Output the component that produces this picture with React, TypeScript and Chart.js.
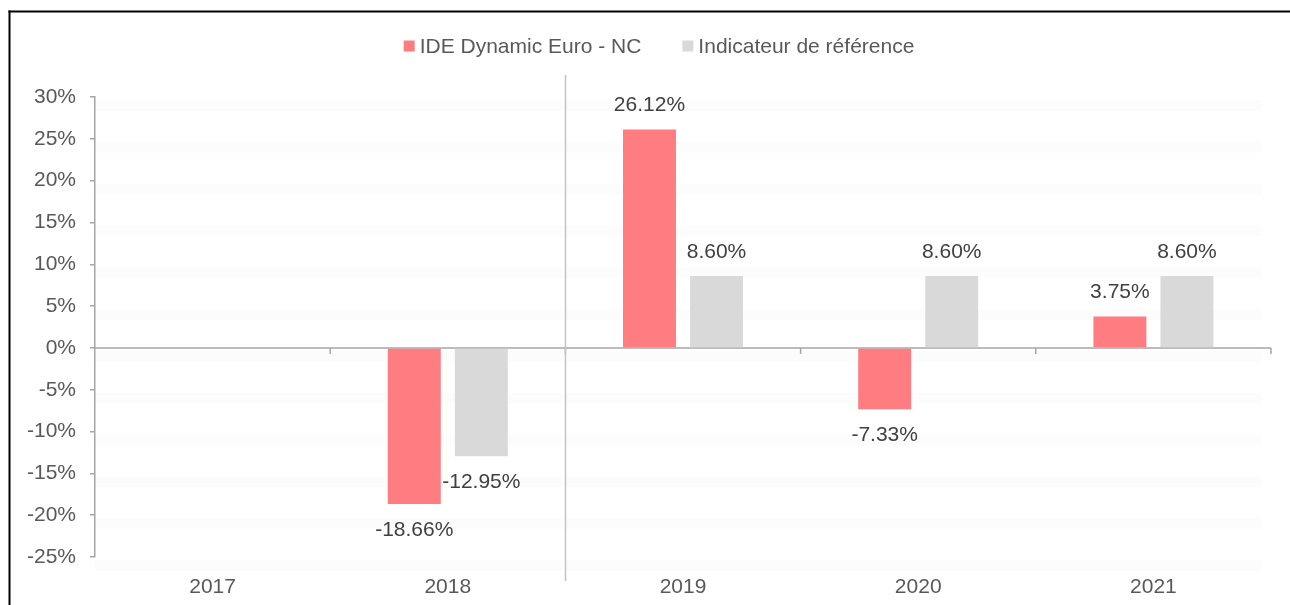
import React, { useEffect, useRef } from "react";
import { Chart, registerables } from "chart.js";

Chart.register(...registerables);

const categories = ["2017", "2018", "2019", "2020", "2021"];
const fundLabel = "IDE Dynamic Euro - NC";
const benchLabel = "Indicateur de référence";
const fundValues: (number | null)[] = [null, -18.66, 26.12, -7.33, 3.75];
const benchValues: (number | null)[] = [null, -12.95, 8.6, 8.6, 8.6];
const yMin = -25;
const yMax = 30;
const yStep = 5;

const FONT = "'Liberation Sans', Arial, sans-serif";
const FONT_SIZE = 21;

const decorPlugin = {
  id: "decor",
  beforeDraw(chart: any) {
    const { ctx, width, height } = chart;
    ctx.save();
    ctx.fillStyle = "#ffffff";
    ctx.fillRect(0, 0, width, height);
    ctx.fillStyle = "#000000";
    ctx.fillRect(8.5, 10.5, width, 2);
    ctx.fillRect(8.5, 10.5, 2, height);
    ctx.restore();
  },
  beforeDatasetsDraw(chart: any) {
    const { ctx, chartArea, scales } = chart;
    const y = scales.y;
    const x = scales.x;
    ctx.save();
    // faint bands
    ctx.fillStyle = "rgba(0,0,0,0.01)";
    for (let v = yMin; v <= yMax; v += yStep) {
      const py = y.getPixelForValue(v);
      ctx.fillRect(chartArea.left, py + 3, chartArea.right - chartArea.left - 9, 11);
    }
    // zero line
    const y0 = y.getPixelForValue(0);
    ctx.strokeStyle = "#a6a6a6";
    ctx.lineWidth = 1.5;
    ctx.beginPath();
    ctx.moveTo(chartArea.left, y0);
    ctx.lineTo(chartArea.right, y0);
    ctx.stroke();
    // category boundary ticks
    const n = categories.length;
    const cw = (chartArea.right - chartArea.left) / n;
    ctx.lineWidth = 1.5;
    for (let i = 0; i < n; i++) {
      const bx = x.getPixelForValue(i) + cw / 2;
      ctx.beginPath();
      ctx.moveTo(bx, y0);
      ctx.lineTo(bx, y0 + 6);
      ctx.stroke();
    }
    // separator between 2018 and 2019
    const sx = Math.round(x.getPixelForValue(1) + cw / 2) + 0.5;
    ctx.strokeStyle = "#c4c4c4";
    ctx.lineWidth = 1.5;
    ctx.beginPath();
    ctx.moveTo(sx, 75);
    ctx.lineTo(sx, 581);
    ctx.stroke();
    ctx.restore();
  },
  afterDatasetsDraw(chart: any) {
    const { ctx } = chart;
    ctx.save();
    ctx.font = `${FONT_SIZE}px ${FONT}`;
    ctx.fillStyle = "#404040";
    ctx.textAlign = "center";
    ctx.textBaseline = "middle";
    chart.data.datasets.forEach((ds: any, di: number) => {
      const meta = chart.getDatasetMeta(di);
      meta.data.forEach((bar: any, i: number) => {
        const v = ds.data[i];
        if (v === null || v === undefined) return;
        const ty = v >= 0 ? bar.y - 24 : bar.y + 26;
        ctx.fillText(v.toFixed(2) + "%", bar.x, ty);
      });
    });
    // legend
    const cy = 46;
    const box = 11;
    const gapText = 5;
    const gapItem = 41;
    const widths = chart.data.datasets.map((ds: any) => ctx.measureText(ds.label).width);
    let total = 0;
    widths.forEach((w: number, i: number) => {
      total += box + gapText + w + (i < widths.length - 1 ? gapItem : 0);
    });
    let cx = 659 - total / 2;
    ctx.textAlign = "left";
    chart.data.datasets.forEach((ds: any, i: number) => {
      ctx.fillStyle = ds.backgroundColor;
      ctx.fillRect(cx, cy - box / 2, box, box);
      cx += box + gapText;
      ctx.fillStyle = "#595959";
      ctx.fillText(ds.label, cx, cy + 1);
      cx += widths[i] + gapItem;
    });
    ctx.restore();
  },
};

export default function App() {
  const ref = useRef<HTMLCanvasElement | null>(null);
  useEffect(() => {
    if (!ref.current) return;
    const chart = new Chart(ref.current, {
      type: "bar",
      data: {
        labels: categories,
        datasets: [
          {
            label: fundLabel,
            data: fundValues,
            backgroundColor: "#FF7C80",
            categoryPercentage: 0.57,
            barPercentage: 0.79,
          },
          {
            label: benchLabel,
            data: benchValues,
            backgroundColor: "#D9D9D9",
            categoryPercentage: 0.57,
            barPercentage: 0.79,
          },
        ],
      },
      options: {
        animation: false,
        responsive: false,
        maintainAspectRatio: false,
        layout: { padding: { left: 0, top: 97, right: 19, bottom: 0 } },
        plugins: {
          legend: { display: false },
          tooltip: { enabled: false },
          title: { display: false },
        },
        scales: {
          x: {
            grid: { display: false },
            border: { display: false },
            ticks: {
              color: "#595959",
              font: { family: FONT, size: FONT_SIZE },
              padding: 10,
              maxRotation: 0,
            },
            afterFit(scale: any) {
              scale.height = 48;
            },
          },
          y: {
            min: yMin,
            max: yMax,
            grid: {
              drawOnChartArea: false,
              drawTicks: true,
              tickLength: 5,
              tickColor: "#a6a6a6",
              lineWidth: 1.5,
            },
            border: { display: true, color: "#a6a6a6", width: 1.5 },
            ticks: {
              stepSize: yStep,
              color: "#595959",
              font: { family: FONT, size: FONT_SIZE },
              padding: 14,
              callback: (v: any) => `${v}%`,
            },
            afterFit(scale: any) {
              scale.width = 95;
            },
          },
        },
      },
      plugins: [decorPlugin],
    });
    return () => chart.destroy();
  }, []);
  return (
    <div style={{ position: "fixed", left: 0, top: 0, width: 1290, height: 605 }}>
      <canvas ref={ref} width={1290} height={605} style={{ display: "block" }} />
    </div>
  );
}
